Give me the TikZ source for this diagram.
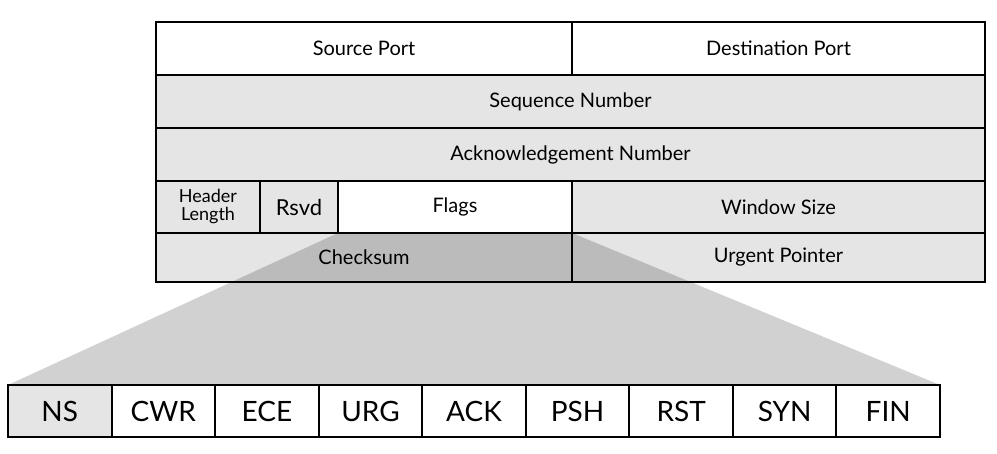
\documentclass[tikz,border=0pt]{standalone}
\usepackage{fontspec}
\setmainfont{Lato}
\usetikzlibrary{positioning}

\begin{document}
\begin{tikzpicture}[x=1pt, y=-1pt,
  cell/.style={draw, line width=1.2pt, inner sep=0pt, outer sep=0pt, align=center, font=\fontsize{20}{22}\selectfont, minimum height=53pt},
  shaded/.style={cell, fill=gray!20},
  bit/.style={draw, line width=2pt, fill=white, inner sep=0pt, outer sep=0pt, minimum width=103.56pt, minimum height=52pt, font=\fontsize{28}{30}\selectfont},
  funnel/.style={fill=black, fill opacity=0.18},
  frame/.style={draw, line width=2.6pt}
]
\useasboundingbox (0,0) rectangle (997,453);

% header fields
\node[cell, minimum width=416pt, anchor=north west] (src) at (156,22) {Source Port};
\node[cell, minimum width=413pt, right=0pt of src] (dst) {Destination Port};
\node[shaded, minimum width=829pt, below right=0pt and 0pt of src.south west] (seq) {Sequence Number};
\node[shaded, minimum width=829pt, below right=0pt and 0pt of seq.south west] (ack) {Acknowledgement Number};
\node[shaded, minimum width=104pt, minimum height=52pt, font=\fontsize{18}{18}\selectfont, below right=0pt and 0pt of ack.south west] (hlen) {Header\\Length};
\node[shaded, minimum width=78pt, minimum height=52pt, font=\fontsize{22}{22}\selectfont, right=0pt of hlen] (rsvd) {Rsvd};
\node[cell, minimum width=234pt, minimum height=52pt, right=0pt of rsvd] (flags) {Flags};
\node[shaded, minimum width=413pt, minimum height=52pt, right=0pt of flags] (win) {Window Size};
\node[shaded, minimum width=416pt, minimum height=49pt, below right=0pt and 0pt of hlen.south west] (cks) {Checksum};
\node[shaded, minimum width=413pt, minimum height=49pt, right=0pt of cks] (urg) {Urgent Pointer};

% flag bits
\node[bit, fill=gray!20, anchor=north west] (NS) at (8,385) {NS};
\foreach \f/\g in {CWR/NS, ECE/CWR, URG/ECE, ACK/URG, PSH/ACK, RST/PSH, SYN/RST, FIN/SYN}
  \node[bit, right=0pt of \g] (\f) {\f};

% zoom from Flags to the bits
\fill[funnel] (flags.south west) -- (flags.south east) -- (FIN.north east) -- (NS.north west) -- cycle;

\draw[frame] (src.north west) rectangle (urg.south east);
\draw[frame] (NS.north west) rectangle (FIN.south east);
\end{tikzpicture}
\end{document}
